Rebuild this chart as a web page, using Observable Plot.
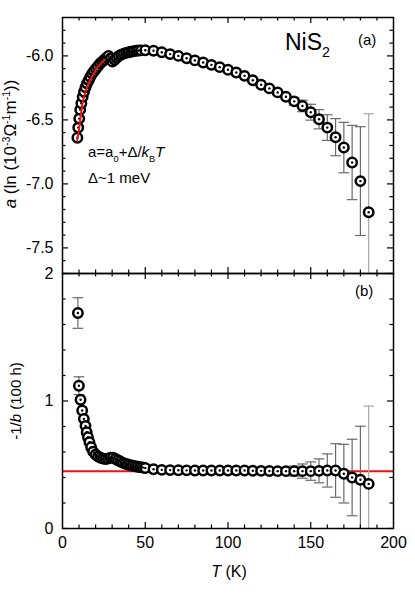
<!DOCTYPE html>
<html><head><meta charset="utf-8">
<script src="https://cdn.jsdelivr.net/npm/d3@7"></script>
<script src="https://cdn.jsdelivr.net/npm/@observablehq/plot@0.6"></script>
<style>
body{margin:0;background:#fff;}
#chart{position:relative;width:415px;height:594px;}
#chart svg{position:absolute;left:0;}
</style></head><body><div id="chart"></div>
<script>
// ---------- data ----------
const topT = [9.0,9.5,10.1,10.7,11.4,12.2,13.0,13.9,14.8,15.8,16.8,17.9,19.0,20.2,21.4,22.7,24.0,25.3,26.6,27.8,29.0,30.2,31.5,32.8,34.1,35.5,37,38.5,40,41.5,43,44.5,46,47.5,
  50,55,60,65,70,75,80,85,90,95,100,105,110,115,120,125,130,135,140,145,150,155,160,165,170,175,180,185];
const topA = [-6.64,-6.56,-6.49,-6.42,-6.37,-6.32,-6.28,-6.245,-6.215,-6.19,-6.165,-6.14,-6.12,-6.10,-6.08,-6.06,-6.045,-6.03,-6.015,-6.0,-6.02,-6.045,-6.03,-6.015,-6.0,-5.99,-5.982,-5.976,-5.971,-5.967,-5.963,-5.96,-5.958,-5.957,
  -5.956,-5.96,-5.972,-5.986,-6.0,-6.018,-6.035,-6.052,-6.07,-6.088,-6.108,-6.13,-6.156,-6.19,-6.225,-6.254,-6.285,-6.319,-6.355,-6.391,-6.44,-6.495,-6.56,-6.635,-6.716,-6.833,-6.978,-7.222];
const topErrT = [140,145,150,155,160,165,170,175,180,185];
const topErr  = [0.03,0.045,0.062,0.075,0.10,0.145,0.197,0.29,0.425,0.77];
const fitT = [8.9,10.1,11.1,12.1,13.7,15.7,18.1,21.1,25.6];
const fitA = [-6.66,-6.565,-6.46,-6.37,-6.29,-6.22,-6.155,-6.09,-6.03];

const botT = [9.3,9.9,10.9,11.9,12.9,13.9,14.6,15.4,16.3,17.3,18.5,20,21.5,23,24.5,26,27.5,29,30.5,32,33.5,35,36.5,38,39.5,41,42.5,44,45.5,47,48.5,
  50,55,60,65,70,75,80,85,90,95,100,105,110,115,120,125,130,135,140,145,150,155,160,165,170,175,180,185];
const botV = [1.69,1.12,1.01,0.925,0.86,0.805,0.755,0.716,0.676,0.637,0.603,0.58,0.565,0.555,0.548,0.545,0.548,0.555,0.555,0.545,0.535,0.525,0.515,0.508,0.502,0.497,0.492,0.488,0.484,0.481,0.478,
  0.475,0.465,0.46,0.458,0.457,0.456,0.455,0.455,0.455,0.455,0.455,0.455,0.455,0.453,0.452,0.451,0.45,0.45,0.45,0.45,0.45,0.452,0.455,0.455,0.43,0.40,0.382,0.35];
const botErrT = [9.3,9.9,140,145,150,155,160,165,170,175,180,185];
const botErr  = [0.12,0.07,0.04,0.056,0.072,0.094,0.13,0.21,0.23,0.30,0.42,0.61];
const botLevel = [0.45];

const xMajor = [0,50,100,150,200];
const xMinor = [10,20,30,40,60,70,80,90,110,120,130,140,160,170,180,190];
const yMajorTop = [-7.5,-7.0,-6.5,-6.0];
const yMinorTop = [-7.6,-7.4,-7.3,-7.2,-7.1,-6.9,-6.8,-6.7,-6.6,-6.4,-6.3,-6.2,-6.1,-5.9,-5.8];
const yMajorBot = [0,1,2];
const yMinorBot = [0.2,0.4,0.6,0.8,1.2,1.4,1.6,1.8];

// ---------- tables ----------
const topData = topT.map((T,i)=>({T, v: topA[i]}));
const topErrData = topErrT.map((T,i)=>{const v = topA[topT.indexOf(T)]; return {T, lo: v-topErr[i], hi: v+topErr[i]};});
const fitData = fitT.map((T,i)=>({T, v: fitA[i]}));
const botData = botT.map((T,i)=>({T, v: botV[i]}));
const botErrData = botErrT.map((T,i)=>{const v = botV[botT.indexOf(T)]; return {T, lo: v-botErr[i], hi: v+botErr[i]};});

// ---------- layout ----------
const W = 415, ML = 62, MR = 22;
const frameW = W - ML - MR;
const topMT = 17, topFH = 256, topH = topMT + topFH;
const botMT = 10, botFH = 255, botMB = 66, botH = botMT + botFH + botMB;
const FONT = '"Liberation Sans", Arial, Helvetica, sans-serif';

const capSymbol = {draw(ctx, size){ const r = Math.sqrt(size); ctx.moveTo(-r,0); ctx.lineTo(r,0); }};
const errColor = d => d.T === 185 ? "#a8a8a8" : "#6a6a6a";

function frameTicks(yMaj, yMin, fh) {
  const s = {stroke: "black", strokeWidth: 1.2};
  const inner = xMajor.filter(d => d > 0 && d < 200);
  return [
    Plot.tickX(inner, {x: d=>d, insetTop: fh-6, ...s}),
    Plot.tickX(inner, {x: d=>d, insetBottom: fh-6, ...s}),
    Plot.tickX(xMinor, {x: d=>d, insetTop: fh-3.5, ...s}),
    Plot.tickX(xMinor, {x: d=>d, insetBottom: fh-3.5, ...s}),
    Plot.tickY(yMaj, {y: d=>d, insetRight: frameW-6, ...s}),
    Plot.tickY(yMaj, {y: d=>d, insetLeft: frameW-6, ...s}),
    Plot.tickY(yMin, {y: d=>d, insetRight: frameW-3.5, ...s}),
    Plot.tickY(yMin, {y: d=>d, insetLeft: frameW-3.5, ...s}),
    Plot.frame({stroke: "black", strokeWidth: 1.5})
  ];
}
function errMarks(data) {
  return [
    Plot.ruleX(data, {x: "T", y1: "lo", y2: "hi", stroke: errColor, strokeWidth: 1.2, clip: true}),
    Plot.dot(data, {x: "T", y: "hi", symbol: capSymbol, r: 3, stroke: errColor, strokeWidth: 1.2, fill: "none", clip: true}),
    Plot.dot(data, {x: "T", y: "lo", symbol: capSymbol, r: 3, stroke: errColor, strokeWidth: 1.2, fill: "none", clip: true})
  ];
}
function markerMarks(data) {
  return [
    Plot.dot(data, {x: "T", y: "v", r: 4.7, stroke: "black", strokeWidth: 2.5, fill: "white"}),
    Plot.dot(data, {x: "T", y: "v", r: 1.2, fill: "black", stroke: "none"})
  ];
}
const style = {background: "transparent", overflow: "visible", fontFamily: FONT, fontSize: "16px", color: "black"};

const topPlot = Plot.plot({
  width: W, height: topH, marginTop: topMT, marginBottom: 0, marginLeft: ML, marginRight: MR,
  style,
  x: {domain: [0, 200], axis: null},
  y: {domain: [-7.7, -5.7]},
  marks: [
    ...errMarks(topErrData),
    ...markerMarks(topData),
    Plot.line(fitData, {x: "T", y: "v", stroke: "#ee1111", strokeWidth: 2, curve: "natural"}),
    ...frameTicks(yMajorTop, yMinorTop, topFH),
    Plot.axisY(yMajorTop, {tickSize: 0, tickPadding: 9, tickFormat: d => d.toFixed(1), label: null})
  ]
});

const botPlot = Plot.plot({
  width: W, height: botH, marginTop: botMT, marginBottom: botMB, marginLeft: ML, marginRight: MR,
  style,
  x: {domain: [0, 200]},
  y: {domain: [0, 2]},
  marks: [
    Plot.ruleY(botLevel, {stroke: "#ee1111", strokeWidth: 2}),
    ...errMarks(botErrData),
    ...markerMarks(botData),
    ...frameTicks(yMajorBot, yMinorBot, botFH),
    Plot.axisY(yMajorBot, {tickSize: 0, tickPadding: 9, tickFormat: d => String(d), label: null}),
    Plot.axisX(xMajor, {tickSize: 0, tickPadding: 8, tickFormat: d => String(d), label: null})
  ]
});

const chart = document.getElementById("chart");
topPlot.style.top = "0px";
botPlot.style.top = (topH - botMT) + "px";
chart.appendChild(topPlot);
chart.appendChild(botPlot);

// ---------- rich text ----------
function rich(svg, {x, y, rotate = 0, anchor = "start", size, parts}) {
  const t = d3.select(svg).append("text")
    .attr("transform", `translate(${x},${y})` + (rotate ? ` rotate(${rotate})` : ""))
    .attr("text-anchor", anchor)
    .attr("font-size", size)
    .attr("font-family", FONT)
    .attr("fill", "black");
  let cur = 0;
  for (const p of parts) {
    const shift = p.sup ? -0.36 * size : p.sub ? 0.3 * size : 0;
    const s = t.append("tspan").attr("dy", shift - cur).text(p.t);
    cur = shift;
    if (p.i) s.attr("font-style", "italic");
    if (p.sup || p.sub) s.attr("font-size", size * 0.62);
  }
}
rich(topPlot, {x: 16, y: 144, rotate: -90, anchor: "middle", size: 17, parts: [
  {t: "a", i: true}, {t: " (ln (10"}, {t: "-3", sup: true}, {t: "Ω"}, {t: "-1", sup: true}, {t: "m"}, {t: "-1", sup: true}, {t: "))"}
]});
rich(topPlot, {x: 285, y: 50, size: 23, parts: [{t: "NiS"}, {t: "2", sub: true}]});
rich(topPlot, {x: 358, y: 45, size: 15, parts: [{t: "(a)"}]});
rich(topPlot, {x: 88, y: 157, size: 15, parts: [
  {t: "a=a"}, {t: "0", sub: true}, {t: "+Δ/"}, {t: "k", i: true}, {t: "B", sub: true}, {t: "T", i: true}
]});
rich(topPlot, {x: 88, y: 183, size: 15, parts: [{t: "Δ~1 meV"}]});

const by = topH - botMT;
rich(botPlot, {x: 355, y: 296 - by, size: 15, parts: [{t: "(b)"}]});
rich(botPlot, {x: 21, y: 401 - by, rotate: -90, anchor: "middle", size: 15, parts: [
  {t: "-1/"}, {t: "b", i: true}, {t: " (100 h)"}
]});
rich(botPlot, {x: 229, y: 577 - by, anchor: "middle", size: 16, parts: [{t: "T", i: true}, {t: " (K)"}]});
</script></body></html>
